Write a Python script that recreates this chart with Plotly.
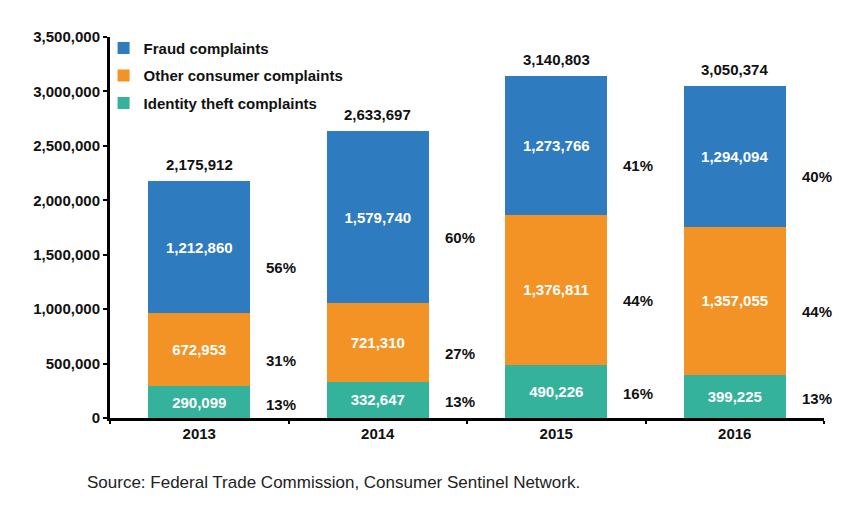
import plotly.graph_objects as go

# Data
years = ['2013', '2014', '2015', '2016']
identity_theft = [290099, 332647, 490226, 399225]
other_consumer = [672953, 721310, 1376811, 1357055]
fraud = [1212860, 1579740, 1273766, 1294094]
totals = [2175912, 2633697, 3140803, 3050374]

identity_pct = ['13%', '13%', '16%', '13%']
other_pct = ['31%', '27%', '44%', '44%']
fraud_pct = ['56%', '60%', '41%', '40%']

FONT = 'Liberation Sans, Arial, sans-serif'
BLUE = '#2f7bbf'
ORANGE = '#f39325'
TEAL = '#35b29b'

fig = go.Figure()

series = [
    ('Identity theft complaints', identity_theft, TEAL, 3),
    ('Other consumer complaints', other_consumer, ORANGE, 2),
    ('Fraud complaints', fraud, BLUE, 1),
]
for name, vals, col, rank in series:
    fig.add_trace(go.Bar(
        name=name,
        x=years,
        y=vals,
        marker=dict(color=col, line=dict(width=0)),
        text=[f'{v:,}' for v in vals],
        textposition='inside',
        insidetextanchor='middle',
        textangle=0,
        textfont=dict(family=FONT, size=15, color='white', weight='bold'),
        legendgroup=name,
        legendrank=rank,
    ))

# totals above bars (x given as category index)
annotations = []
for i, tot in enumerate(totals):
    annotations.append(dict(
        x=i, y=tot, xref='x', yref='y', text=f'{tot:,}',
        showarrow=False, yanchor='bottom', yshift=6,
        font=dict(family=FONT, size=15, color='#111', weight='bold')))

# percentage labels to the right of each segment, sitting a bit below the middle
pct_shift = [-2, -11, -20]
for i in range(len(years)):
    bottoms = [0, identity_theft[i], identity_theft[i] + other_consumer[i]]
    vals = [identity_theft[i], other_consumer[i], fraud[i]]
    pcts = [identity_pct[i], other_pct[i], fraud_pct[i]]
    for b, v, p, s in zip(bottoms, vals, pcts, pct_shift):
        annotations.append(dict(
            x=i, y=b + v / 2, xref='x', yref='y', text=p,
            showarrow=False, xanchor='left', xshift=65, yshift=s,
            font=dict(family=FONT, size=15, color='#111', weight='bold')))

annotations.append(dict(
    x=-0.035, y=-0.168, xref='paper', yref='paper',
    text='Source: Federal Trade Commission, Consumer Sentinel Network.',
    showarrow=False, xanchor='left', yanchor='middle',
    font=dict(family=FONT, size=17, color='#222')))

# page body has an 8px margin, so the figure is sized to fit the window
fig.update_layout(
    barmode='stack',
    bargap=0.43,
    width=858, height=510,
    margin=dict(l=102, r=42, t=29, b=100),
    plot_bgcolor='white',
    paper_bgcolor='white',
    font=dict(family=FONT, color='#111'),
    showlegend=True,
    legend=dict(
        x=-0.009, y=1.014, xanchor='left', yanchor='top',
        traceorder='grouped', tracegroupgap=5,
        font=dict(family=FONT, size=15, color='#111', weight='bold'),
        itemwidth=30, bgcolor='rgba(0,0,0,0)',
    ),
    annotations=annotations,
)

fig.update_xaxes(
    type='category', range=[-0.5, len(years) - 0.5],
    showline=True, linecolor='black', linewidth=3,
    ticks='outside', tickson='boundaries', ticklen=3, tickwidth=2,
    tickcolor='black', showgrid=False,
    tickfont=dict(family=FONT, size=15, color='#111', weight='bold'),
)
fig.update_yaxes(
    range=[0, 3500000], dtick=500000, tickformat=',',
    showline=True, linecolor='black', linewidth=3,
    ticks='outside', ticklen=4, tickwidth=2, tickcolor='black',
    showgrid=False, zeroline=False, automargin=False,
    tickfont=dict(family=FONT, size=15, color='#111', weight='bold'),
)

fig.write_html('out.html')
